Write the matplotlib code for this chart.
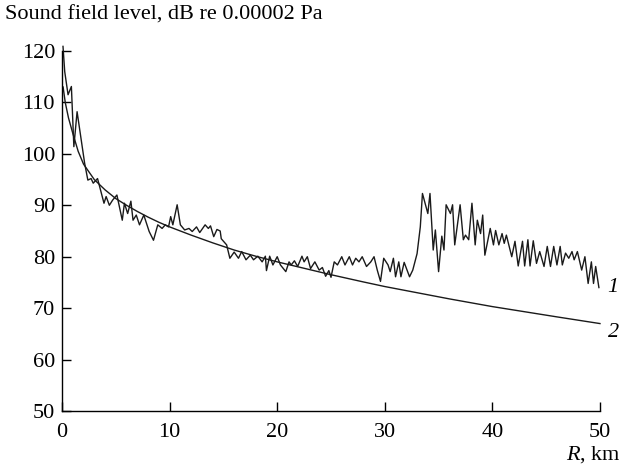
import numpy as np
import matplotlib
matplotlib.use("Agg")
import matplotlib.pyplot as plt

plt.rcParams['font.family'] = ['Liberation Serif', 'DejaVu Serif']
plt.rcParams['mathtext.fontset'] = 'custom'
plt.rcParams['mathtext.rm'] = 'Liberation Serif'
plt.rcParams['mathtext.it'] = 'Liberation Serif:italic'

# curve 1 - measured sound field level (jagged)
r1 = [0.09, 0.25, 0.56, 0.87, 1.1, 1.4, 2.1, 2.4, 2.7, 2.9, 3.3, 3.9, 4.1, 4.4, 4.7,
      5.1, 5.6, 5.8, 6.1, 6.4, 6.6, 6.9, 7.2, 7.6, 8.1, 8.5, 8.9, 9.3, 9.6, 9.9,
      10.1, 10.3, 10.7, 11.0, 11.4, 11.8, 12.1, 12.5, 12.8, 13.3, 13.6, 13.8, 14.1,
      14.4, 14.7, 14.8, 15.3, 15.6, 16.0, 16.4, 16.7, 17.1, 17.5, 17.8, 18.2, 18.6,
      18.9, 19.0, 19.3, 19.6, 20.0, 20.3, 20.8, 21.1, 21.3, 21.6, 21.9, 22.3, 22.5,
      22.8, 23.1, 23.5, 23.9, 24.2, 24.5, 24.8, 25.0, 25.3, 25.6, 26.0, 26.3, 26.7,
      27.0, 27.3, 27.6, 27.9, 28.3, 28.7, 29.0, 29.3, 29.6, 29.9, 30.3, 30.5, 30.8,
      31.0, 31.3, 31.5, 31.8, 32.3, 32.6, 33.0, 33.3, 33.5, 34.0, 34.2, 34.5, 34.7,
      35.0, 35.3, 35.5, 35.7, 36.1, 36.3, 36.5, 37.0, 37.3, 37.5, 37.8, 38.1, 38.4,
      38.6, 38.9, 39.1, 39.3, 39.8, 40.1, 40.3, 40.6, 40.9, 41.1, 41.3, 41.8, 42.1,
      42.4, 42.8, 43.0, 43.3, 43.5, 43.8, 44.1, 44.4, 44.8, 45.1, 45.4, 45.7, 46.0,
      46.3, 46.5, 46.8, 47.1, 47.4, 47.6, 47.9, 48.3, 48.6, 48.9, 49.2, 49.4, 49.6,
      49.9]
lvl1 = [120.9, 116.0, 111.5, 113.1, 101.4, 108.2, 98.2, 94.9, 95.2, 94.3, 95.2, 90.4, 91.7,
        90.0, 91.0, 92.0, 87.1, 90.4, 88.4, 90.8, 87.1, 88.1, 86.2, 88.1, 84.9, 83.2,
        86.2, 85.5, 86.2, 85.8, 87.8, 86.2, 90.1, 86.2, 85.2, 85.5, 84.9, 85.8, 84.7,
        86.2, 85.5, 86.0, 83.9, 85.3, 85.0, 83.5, 82.3, 79.7, 80.9, 79.7, 81.0, 79.4,
        80.3, 79.4, 80.1, 79.0, 80.1, 77.3, 80.1, 78.4, 80.0, 78.4, 77.1, 79.0, 78.4,
        79.2, 78.1, 80.1, 79.0, 80.0, 77.7, 79.0, 77.4, 77.9, 76.2, 77.3, 76.0, 79.0,
        78.4, 80.0, 78.4, 80.0, 78.4, 79.7, 79.0, 80.0, 78.1, 79.0, 80.0, 77.4, 75.2,
        79.7, 78.4, 77.1, 79.7, 76.1, 79.0, 76.1, 78.9, 76.1, 77.4, 80.6, 85.8, 92.3,
        88.4, 92.3, 81.3, 85.2, 77.1, 84.0, 81.3, 90.1, 88.4, 90.1, 82.3, 90.1, 83.3,
        84.2, 83.3, 90.4, 82.3, 87.1, 84.5, 88.1, 80.3, 85.5, 82.3, 85.1, 82.3, 84.5,
        82.6, 84.2, 80.0, 83.0, 78.2, 83.0, 78.2, 83.3, 78.2, 83.1, 78.7, 81.0, 78.1,
        82.0, 78.1, 82.0, 78.4, 82.0, 78.4, 80.7, 79.7, 81.0, 79.4, 81.0, 77.4, 80.0,
        74.8, 79.0, 74.8, 78.1, 74.0]

# curve 2 - smooth estimate
r2 = [0.1, 0.3, 0.6, 1.0, 1.5, 2.0, 3.0, 4.0, 5.0, 6.0, 7.0, 8.0, 9.0, 10.0, 12.0,
      14.0, 16.0, 18.0, 20.0, 22.0, 25.0, 28.0, 30.0, 33.0, 36.0, 40.0, 43.0, 46.0, 50.0]
lvl2 = [113.0, 110.0, 107.0, 104.0, 100.5, 98.0, 95.0, 93.0, 91.3, 90.0, 88.8, 87.7,
        86.7, 85.8, 84.2, 82.7, 81.3, 80.1, 79.0, 78.0, 76.5, 75.1, 74.2, 73.0, 71.8,
        70.3, 69.3, 68.3, 67.0]

xticks = [0, 10, 20, 30, 40, 50]
yticks = [50, 60, 70, 80, 90, 100, 110, 120]

fs = 16

fig = plt.figure(figsize=(6.24, 4.71), dpi=100)
ax = fig.add_axes([0.0994, 0.1274, 0.8621, 0.7643])

ax.plot(r1, lvl1, color='#1a1a1a', lw=1.0, clip_on=False)
ax.plot(r2, lvl2, color='#1a1a1a', lw=1.0, clip_on=False)

ax.set_xlim(0, 50)
ax.set_ylim(50, 120)
ax.set_xticks(xticks)
ax.set_yticks(yticks)
ax.spines['top'].set_visible(False)
ax.spines['right'].set_visible(False)
for s in ('left', 'bottom'):
    ax.spines[s].set_linewidth(1.0)
ax.tick_params(direction='in', length=6.5, width=1.0, labelsize=fs)
ax.tick_params(axis='y', pad=5)
ax.tick_params(axis='x', pad=9)

fig.text(0.008, 0.968, 'Sound field level, dB re 0.00002 Pa', fontsize=fs,
         ha='left', va='center')
fig.text(0.995, 0.034, '$\\mathit{R}$, km', fontsize=fs, ha='right', va='center')
ax.text(50.7, 74.0, '1', fontsize=fs, style='italic', ha='left', va='center')
ax.text(50.7, 65.3, '2', fontsize=fs, style='italic', ha='left', va='center')

fig.savefig('out.png', dpi=100)
